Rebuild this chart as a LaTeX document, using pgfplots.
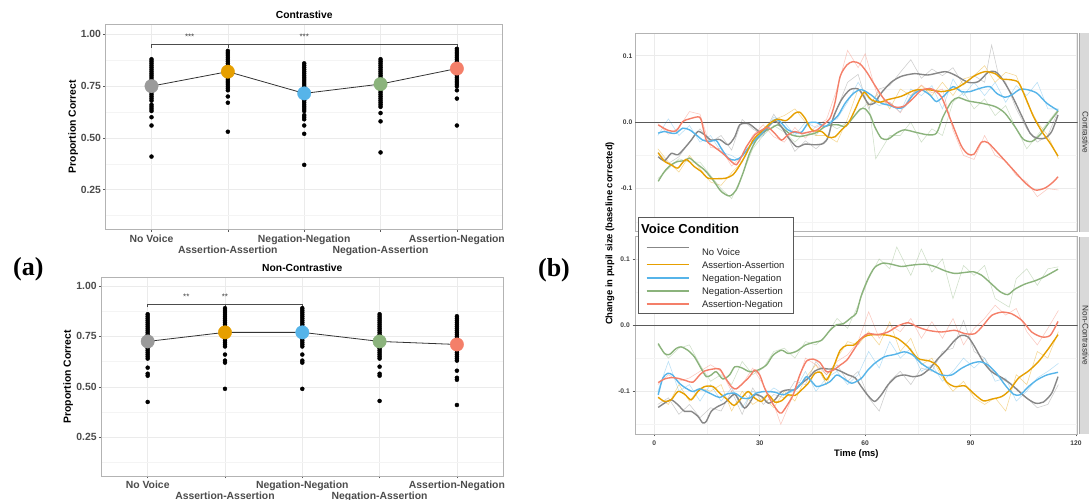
\documentclass[border=0pt]{standalone}
\usepackage{fontspec}
\setmainfont{Liberation Sans}
\newfontfamily\serifb{Liberation Serif}
\usepackage{pgfplots}
\pgfplotsset{compat=1.18}

\definecolor{cNV}{HTML}{878787}
\definecolor{cAA}{HTML}{E69F00}
\definecolor{cNN}{HTML}{56B4E9}
\definecolor{cNA}{HTML}{8BB37C}
\definecolor{cAN}{HTML}{F47F69}
\definecolor{dNV}{HTML}{9A9A9A}
\definecolor{gridc}{HTML}{EBEBEB}
\definecolor{gridm}{HTML}{F4F4F4}
\definecolor{bordc}{HTML}{B3B3B3}

\tikzset{stars/.style={font=\fontsize{8}{8}\selectfont, text=black!75}}
\newcommand{\lgs}{\rule[-3.6pt]{0pt}{12.6pt}}

\pgfplotsset{
  ggpanel/.style={
    scale only axis,
    axis line style={draw=bordc, line width=0.6pt},
    grid=both,
    major grid style={draw=gridc, line width=0.55pt},
    minor grid style={draw=gridm, line width=0.4pt},
    tick align=outside, xtick pos=lower, ytick pos=left,
    major tick length=2.5pt, minor tick length=0pt,
    tick style={draw=black!65, line width=0.5pt},
    /pgf/number format/assume math mode=true,
  },
  accpanel/.style={
    ggpanel,
    xmin=0.4, xmax=5.6,
    xtick={1,2,3,4,5},
    ytick={0.25,0.5,0.75,1}, yticklabels={0.25,0.50,0.75,1.00},
    minor ytick={0.125,0.375,0.625,0.875},
    xticklabels={\strut No Voice,{\strut\\\strut Assertion-Assertion},\strut Negation-Negation,{\strut\\\strut Negation-Assertion},\strut Assertion-Negation},
    x tick label style={align=center, font=\bfseries\fontsize{10.4}{11}\selectfont, text=black!70, inner sep=0pt, yshift=-2.5pt},
    y tick label style={font=\bfseries\fontsize{10.4}{11}\selectfont, text=black!70, inner sep=0pt, xshift=-2pt},
    ylabel={Proportion Correct},
    ylabel style={font=\bfseries\fontsize{10.4}{12}\selectfont},
  },
  pupilpanel/.style={
    ggpanel,
    xmin=-5.5, xmax=120.5, ymin=-0.1647, ymax=0.1337,
    xtick={0,30,60,90,120}, minor xtick={15,45,75,105},
    ytick={-0.1,0,0.1}, yticklabels={-0.1,0.0,0.1},
    minor ytick={-0.15,-0.05,0.05},
    y tick label style={font=\bfseries\fontsize{6.7}{8}\selectfont, text=black!75, inner sep=0pt, xshift=-2.5pt},
    x tick label style={font=\bfseries\fontsize{6.7}{8}\selectfont, text=black!75, inner sep=0pt, yshift=-4pt},
  },
  rawline/.style={#1, line width=0.55pt, opacity=0.42, forget plot},
  smline/.style={#1, line width=1.4pt, smooth, tension=0.45},
  dots/.style={only marks, mark=*, mark size=2pt, mark options={fill=black, draw=black}},
  meanpt/.style={only marks, mark=*, mark size=6.7pt, mark options={fill=#1, draw=#1}},
}

\begin{document}
\begin{tikzpicture}[x=1pt,y=1pt]
\useasboundingbox (0,0) rectangle (1089,500);

% ---------------- (a) Contrastive ----------------
\begin{axis}[accpanel,
  at={(105.7pt,270.7pt)}, anchor=south west, width=397pt, height=205.3pt,
  ymin=0.059, ymax=1.05,
  title={Contrastive},
  every axis title/.style={at={(0.5,1)}, anchor=base, yshift=5.3pt, font=\bfseries\fontsize{10.3}{12}\selectfont},
  ylabel style={at={(axis description cs:-0.0816,0.5)}, anchor=center},
]
\addplot[black!70, line width=0.6pt] coordinates {(1,0.936)(1,0.953)(5,0.953)(5,0.94)};
\addplot[black!70, line width=0.6pt] coordinates {(2,0.953)(2,0.935)};
\node[stars] at (axis cs:1.5,0.99) {***};
\node[stars] at (axis cs:3,0.99) {***};
\addplot[dots] coordinates {
(1,0.88)(1,0.87)(1,0.86)(1,0.85)(1,0.84)(1,0.83)(1,0.82)(1,0.81)(1,0.80)(1,0.79)(1,0.78)(1,0.77)(1,0.76)
(1,0.74)(1,0.73)(1,0.72)(1,0.71)(1,0.70)(1,0.69)(1,0.68)(1,0.66)(1,0.65)(1,0.64)(1,0.63)(1,0.60)(1,0.56)(1,0.41)
(2,0.92)(2,0.91)(2,0.90)(2,0.89)(2,0.88)(2,0.87)(2,0.86)(2,0.85)(2,0.84)(2,0.83)(2,0.82)(2,0.81)(2,0.80)
(2,0.79)(2,0.78)(2,0.77)(2,0.76)(2,0.75)(2,0.74)(2,0.73)(2,0.70)(2,0.67)(2,0.53)
(3,0.86)(3,0.85)(3,0.84)(3,0.83)(3,0.82)(3,0.81)(3,0.80)(3,0.79)(3,0.78)(3,0.77)(3,0.76)(3,0.75)(3,0.74)
(3,0.73)(3,0.72)(3,0.71)(3,0.70)(3,0.69)(3,0.68)(3,0.67)(3,0.66)(3,0.65)(3,0.64)(3,0.63)(3,0.61)(3,0.60)
(3,0.59)(3,0.56)(3,0.52)(3,0.37)
(4,0.88)(4,0.87)(4,0.86)(4,0.85)(4,0.84)(4,0.83)(4,0.82)(4,0.81)(4,0.80)(4,0.79)(4,0.78)(4,0.77)(4,0.76)
(4,0.75)(4,0.74)(4,0.73)(4,0.72)(4,0.71)(4,0.70)(4,0.69)(4,0.68)(4,0.67)(4,0.66)(4,0.65)(4,0.62)(4,0.58)(4,0.43)
(5,0.93)(5,0.92)(5,0.91)(5,0.90)(5,0.89)(5,0.88)(5,0.87)(5,0.86)(5,0.85)(5,0.84)(5,0.83)(5,0.82)(5,0.81)
(5,0.80)(5,0.79)(5,0.78)(5,0.77)(5,0.76)(5,0.75)(5,0.73)(5,0.69)(5,0.56)
};
\addplot[black!80, line width=0.8pt] coordinates {(1,0.75)(2,0.82)(3,0.715)(4,0.76)(5,0.835)};
\addplot[meanpt=dNV] coordinates {(1,0.75)};
\addplot[meanpt=cAA] coordinates {(2,0.82)};
\addplot[meanpt=cNN] coordinates {(3,0.715)};
\addplot[meanpt=cNA] coordinates {(4,0.76)};
\addplot[meanpt=cAN] coordinates {(5,0.835)};
\end{axis}

% ---------------- (a) Non-Contrastive ----------------
\begin{axis}[accpanel,
  at={(101.3pt,24pt)}, anchor=south west, width=402pt, height=198.3pt,
  ymin=0.058, ymax=1.041,
  title={Non-Contrastive},
  every axis title/.style={at={(0.5,1)}, anchor=base, yshift=6.3pt, font=\bfseries\fontsize{10.3}{12}\selectfont},
  ylabel style={at={(axis description cs:-0.0821,0.5)}, anchor=center},
]
\addplot[black!70, line width=0.6pt] coordinates {(1,0.895)(1,0.911)(3,0.911)(3,0.895)};
\addplot[black!70, line width=0.6pt] coordinates {(2,0.911)(2,0.895)};
\node[stars] at (axis cs:1.5,0.947) {**};
\node[stars] at (axis cs:2,0.947) {**};
\addplot[dots] coordinates {
(1,0.86)(1,0.85)(1,0.84)(1,0.83)(1,0.82)(1,0.81)(1,0.80)(1,0.79)(1,0.78)(1,0.77)(1,0.76)(1,0.75)
(1,0.74)(1,0.73)(1,0.72)(1,0.71)(1,0.70)(1,0.69)(1,0.68)(1,0.67)(1,0.66)(1,0.65)(1,0.64)(1,0.595)(1,0.565)(1,0.555)(1,0.425)
(2,0.89)(2,0.88)(2,0.87)(2,0.86)(2,0.85)(2,0.84)(2,0.83)(2,0.82)(2,0.81)(2,0.80)(2,0.79)(2,0.78)
(2,0.77)(2,0.76)(2,0.75)(2,0.74)(2,0.73)(2,0.72)(2,0.71)(2,0.70)(2,0.66)(2,0.63)(2,0.62)(2,0.49)
(3,0.89)(3,0.88)(3,0.87)(3,0.86)(3,0.85)(3,0.84)(3,0.83)(3,0.82)(3,0.81)(3,0.80)(3,0.79)(3,0.78)
(3,0.77)(3,0.76)(3,0.75)(3,0.74)(3,0.73)(3,0.72)(3,0.71)(3,0.70)(3,0.66)(3,0.63)(3,0.62)(3,0.49)
(4,0.86)(4,0.85)(4,0.84)(4,0.83)(4,0.82)(4,0.81)(4,0.80)(4,0.79)(4,0.78)(4,0.77)(4,0.76)(4,0.75)
(4,0.74)(4,0.73)(4,0.72)(4,0.71)(4,0.70)(4,0.69)(4,0.68)(4,0.67)(4,0.66)(4,0.65)(4,0.64)(4,0.60)(4,0.565)(4,0.555)(4,0.43)
(5,0.85)(5,0.84)(5,0.83)(5,0.82)(5,0.81)(5,0.80)(5,0.79)(5,0.78)(5,0.77)(5,0.76)(5,0.75)(5,0.74)
(5,0.73)(5,0.72)(5,0.71)(5,0.70)(5,0.69)(5,0.68)(5,0.67)(5,0.66)(5,0.65)(5,0.64)(5,0.63)(5,0.58)(5,0.545)(5,0.535)(5,0.41)
};
\addplot[black!80, line width=0.8pt] coordinates {(1,0.725)(2,0.77)(3,0.77)(4,0.725)(5,0.71)};
\addplot[meanpt=dNV] coordinates {(1,0.725)};
\addplot[meanpt=cAA] coordinates {(2,0.77)};
\addplot[meanpt=cNN] coordinates {(3,0.77)};
\addplot[meanpt=cNA] coordinates {(4,0.725)};
\addplot[meanpt=cAN] coordinates {(5,0.71)};
\end{axis}

% ---------------- (b) Contrastive ----------------
\begin{axis}[pupilpanel,
  at={(635pt,268.3pt)}, anchor=south west, width=442.7pt, height=198.4pt,
  xticklabels={}, major tick length=0pt,
]
\addplot[rawline=cNV] coordinates {(1,-0.045)(4,-0.062)(7,-0.052)(10,-0.03)(13,-0.01)(16,-0.03)(19,-0.02)(22,-0.042)(25,0.004)(28,-0.01)(31,-0.02)(34,0.012)(37,-0.012)(40,-0.044)(43,-0.028)(46,-0.04)(49,-0.026)(52,0.02)(55,0.06)(58,0.072)(61,0.02)(64,0.05)(67,0.055)(70,0.075)(73,0.094)(76,0.066)(79,0.08)(82,0.07)(85,0.082)(88,0.056)(91,0.07)(94,0.06)(96,0.116)(98,0.07)(100,0.06)(103,0.02)(106,-0.01)(109,-0.03)(112,-0.02)(115,0.018)};
\addplot[rawline=cAA] coordinates {(1,-0.04)(4,-0.06)(7,-0.075)(10,-0.05)(13,-0.07)(16,-0.09)(19,-0.095)(22,-0.076)(25,-0.06)(28,-0.03)(31,-0.01)(34,0.004)(37,0.01)(40,0.02)(43,0.0)(46,-0.02)(49,-0.02)(52,-0.03)(55,0.005)(58,0.05)(61,0.025)(64,0.045)(67,0.02)(70,0.05)(73,0.04)(76,0.055)(79,0.04)(82,0.06)(85,0.04)(88,0.065)(91,0.07)(94,0.085)(97,0.06)(100,0.075)(103,0.07)(106,0.03)(109,0.0)(112,-0.02)(115,-0.055)};
\addplot[rawline=cNN] coordinates {(1,-0.02)(4,0.005)(7,-0.02)(10,-0.005)(13,-0.03)(16,-0.02)(19,-0.045)(22,-0.05)(25,-0.06)(28,-0.03)(31,-0.02)(34,0.008)(37,0.0)(40,-0.02)(43,0.0)(46,-0.008)(49,0.0)(52,0.005)(55,0.03)(58,0.06)(61,0.035)(64,0.025)(67,0.03)(70,0.015)(73,0.05)(76,0.04)(79,0.055)(82,0.02)(85,0.065)(88,0.04)(91,0.06)(94,0.04)(97,0.06)(100,0.03)(103,0.055)(106,0.04)(109,0.06)(112,0.02)(115,0.02)};
\addplot[rawline=cNA] coordinates {(1,-0.085)(4,-0.07)(7,-0.055)(10,-0.06)(13,-0.06)(16,-0.08)(19,-0.1)(22,-0.115)(25,-0.08)(28,-0.04)(31,-0.02)(34,-0.005)(37,-0.015)(40,-0.03)(43,-0.015)(46,-0.02)(49,0.0)(52,-0.01)(55,0.0)(58,0.015)(61,0.03)(63,-0.055)(67,-0.02)(70,-0.02)(73,0.0)(76,-0.03)(79,-0.01)(82,-0.02)(85,0.03)(88,0.045)(91,0.02)(94,0.035)(97,0.01)(100,0.025)(103,-0.01)(106,-0.04)(109,-0.02)(112,0.0)(115,0.02)};
\addplot[rawline=cAN] coordinates {(1,-0.002)(4,-0.018)(7,-0.008)(10,0.016)(13,0.012)(16,-0.038)(19,-0.04)(22,-0.066)(25,-0.05)(28,-0.02)(31,-0.004)(34,-0.022)(37,-0.03)(40,-0.008)(43,-0.024)(46,-0.006)(49,0.004)(52,0.05)(55,0.108)(58,0.082)(60,0.103)(64,0.03)(67,0.03)(70,0.014)(73,0.04)(76,0.056)(79,0.044)(82,0.05)(85,-0.012)(88,-0.05)(91,-0.056)(94,-0.02)(97,-0.05)(100,-0.058)(103,-0.08)(106,-0.09)(109,-0.112)(112,-0.1)(115,-0.102)};
\addplot[black!65, line width=0.9pt] coordinates {(-5.5,0)(120.5,0)};
\addplot[smline=cNA] coordinates {(1.1,-0.089)(2.9,-0.074)(4.8,-0.064)(6.7,-0.059)(8.6,-0.058)(10,-0.054)(11.9,-0.062)(14.3,-0.072)(16.7,-0.087)(19,-0.104)(21.4,-0.111)(23.3,-0.102)(25.2,-0.077)(27.1,-0.047)(29,-0.027)(31.4,-0.014)(33.3,-0.009)(35.2,-0.004)(37.1,-0.0115)(39,-0.019)(41.4,-0.0215)(43.8,-0.019)(46.2,-0.0155)(48.6,-0.0065)(50.5,-0.004)(52.4,-0.004)(54.3,-0.0065)(56.2,0.0045)(58.6,0.0195)(60,0.02)(61.5,0.01)(62.7,-0.0065)(64.6,-0.024)(66.5,-0.0255)(68.9,-0.0165)(71.2,-0.0115)(74.6,-0.0155)(77.9,-0.019)(80.3,-0.0165)(82.2,0.0085)(84.6,0.031)(86.5,0.037)(89.3,0.032)(93.1,0.0285)(97,0.0235)(99.8,0.0135)(102.6,-0.0065)(105,-0.0255)(107.4,-0.029)(109.8,-0.019)(112.2,-0.0015)(114.9,0.017)};
\addplot[smline=cNV] coordinates {(1.1,-0.052)(2.9,-0.058)(4.8,-0.047)(6.7,-0.049)(8.6,-0.039)(10.5,-0.027)(12.4,-0.014)(14.3,-0.019)(16.2,-0.027)(18.6,-0.026)(21,-0.034)(22.9,-0.022)(24.3,-0.004)(26.7,-0.002)(28.6,-0.009)(30.5,-0.016)(32.4,-0.007)(34.3,0.002)(36.2,-0.007)(38,-0.022)(40.5,-0.037)(42.9,-0.033)(45.7,-0.034)(48.1,-0.032)(49.5,-0.022)(51,0.008)(53.3,0.034)(55.7,0.049)(58,0.05)(59.5,0.04)(61,0.027)(62.7,0.029)(64.6,0.044)(67.4,0.06)(70.3,0.069)(74.1,0.073)(77.9,0.071)(82.7,0.076)(85.5,0.071)(89.3,0.06)(92.2,0.061)(95,0.075)(97,0.076)(98.9,0.066)(101.7,0.041)(104.6,0.009)(107,-0.017)(108.9,-0.024)(111.2,-0.024)(113.1,-0.014)(114.9,0.011)};
\addplot[smline=cNN] coordinates {(1.1,-0.0165)(2.9,-0.014)(4.8,-0.0165)(6.2,-0.0165)(8.1,-0.009)(10,-0.0115)(11.9,-0.019)(13.8,-0.027)(15.7,-0.029)(17.6,-0.0275)(19,-0.039)(21,-0.054)(22.9,-0.057)(24.8,-0.052)(26.7,-0.039)(28.6,-0.027)(31,-0.014)(33.3,-0.0005)(34.8,0.0045)(36.2,-0.0015)(38,-0.0115)(40,-0.0155)(41.9,-0.015)(43.8,-0.0015)(46.2,-0.0005)(48.6,-0.0065)(50.5,0.001)(52.4,0.011)(54.3,0.0285)(56.7,0.0435)(58.9,0.049)(61.7,0.041)(64.6,0.0285)(66.5,0.026)(69.3,0.021)(71.2,0.0235)(73.6,0.041)(76,0.0485)(78.4,0.041)(80.3,0.031)(82.7,0.041)(85,0.0535)(87.4,0.046)(89.8,0.046)(92.7,0.051)(95.5,0.0535)(97.4,0.0435)(99.8,0.0375)(101.7,0.041)(104.1,0.0495)(106.5,0.0485)(108.9,0.0435)(111.7,0.0285)(114.9,0.0175)};
\addplot[smline=cAA] coordinates {(1.1,-0.046)(2.9,-0.059)(4.8,-0.064)(6.7,-0.069)(9,-0.056)(11.4,-0.067)(13.3,-0.074)(15.2,-0.084)(18.1,-0.085)(20.5,-0.084)(22.4,-0.079)(23.8,-0.069)(25.7,-0.052)(28.1,-0.027)(30.5,-0.014)(33.3,0.0)(35.2,0.0045)(37.6,0.0025)(40,0.0135)(41.4,0.015)(42.9,0.006)(44.8,-0.0115)(47.6,-0.014)(49.5,-0.0225)(51.4,-0.022)(53.3,-0.0115)(55.2,-0.0015)(57.1,0.0185)(58.6,0.036)(59.8,0.045)(61.7,0.034)(64.1,0.03)(66.5,0.034)(70.3,0.039)(74.1,0.048)(77.9,0.049)(81.7,0.046)(85.5,0.05)(88.4,0.059)(91.2,0.07)(94.1,0.076)(97,0.073)(98.9,0.065)(101.2,0.064)(103.6,0.06)(105.5,0.039)(107.9,0.0085)(110.3,-0.014)(112.7,-0.032)(114.9,-0.051)};
\addplot[smline=cAN] coordinates {(1.1,-0.004)(3.8,-0.012)(6.2,-0.013)(8.1,0.001)(10,0.005)(12.4,0.008)(13.3,0.004)(14.8,-0.027)(17,-0.037)(19.5,-0.047)(21.9,-0.059)(23.3,-0.064)(24.6,-0.054)(26.2,-0.037)(28.6,-0.019)(30.5,-0.012)(32.4,-0.008)(34.3,-0.017)(36.2,-0.027)(38,-0.019)(40,-0.014)(41.9,-0.017)(43.8,-0.015)(46.2,-0.012)(48,-0.004)(50,0.006)(51.4,0.029)(52.9,0.069)(54.8,0.086)(56.5,0.091)(58.5,0.088)(60.5,0.075)(62.7,0.056)(65.5,0.034)(68.4,0.023)(71,0.024)(73.5,0.035)(76,0.048)(78.9,0.05)(81.7,0.038)(84.6,0.0)(87.4,-0.036)(89.3,-0.048)(91,-0.048)(93.1,-0.03)(95,-0.031)(97.9,-0.047)(101.7,-0.069)(105.5,-0.091)(108.4,-0.102)(111.2,-0.099)(113.5,-0.09)(114.9,-0.082)};
\end{axis}

% ---------------- (b) Non-Contrastive ----------------
\begin{axis}[pupilpanel,
  at={(635pt,66pt)}, anchor=south west, width=442.7pt, height=197.4pt,
  xlabel={Time (ms)},
  xlabel style={font=\bfseries\fontsize{9.4}{11}\selectfont, at={(axis description cs:0.5,-0.101)}, anchor=center},
  ylabel={Change in pupil size (baseline corrected)},
  ylabel style={font=\bfseries\fontsize{9.4}{11}\selectfont, at={(axis description cs:-0.0564,1.0157)}, anchor=center},
  legend cell align=left,
  legend image code/.code={\draw[#1, line width=1.4pt] (0pt,0pt) -- (42.7pt,0pt);},
  legend style={at={(axis description cs:0.0061,1.1008)}, anchor=north west,
    draw=black!65, line width=0.6pt, fill=white,
    inner xsep=8pt, inner ysep=3pt, row sep=0pt,
    font=\fontsize{9.5}{11}\selectfont,
    nodes={inner sep=1.3pt, text=black!85},
    /tikz/every odd column/.append style={column sep=10.7pt}},
]
\addlegendimage{empty legend}
\addlegendentry{\hspace*{-61pt}\rule[-2pt]{0pt}{14.7pt}{\fontsize{13}{14}\selectfont\bfseries\color{black}Voice Condition}}
\addplot[rawline=cNV] coordinates {(1,-0.12)(4,-0.11)(7,-0.135)(10,-0.12)(13,-0.14)(16,-0.125)(19,-0.13)(22,-0.1)(25,-0.135)(28,-0.095)(31,-0.12)(34,-0.105)(37,-0.11)(40,-0.085)(43,-0.09)(46,-0.055)(49,-0.075)(52,-0.06)(55,-0.085)(58,-0.07)(61,-0.11)(64,-0.13)(67,-0.085)(70,-0.07)(73,-0.09)(76,-0.065)(79,-0.07)(82,-0.04)(85,-0.035)(88,0.007)(91,-0.04)(94,-0.05)(97,-0.075)(100,-0.085)(103,-0.095)(106,-0.11)(109,-0.125)(112,-0.12)(115,-0.09)};
\addplot[rawline=cAA] coordinates {(1,-0.11)(4,-0.12)(7,-0.09)(10,-0.115)(13,-0.095)(16,-0.1)(19,-0.09)(22,-0.13)(25,-0.1)(28,-0.12)(31,-0.11)(34,-0.125)(37,-0.1)(40,-0.115)(43,-0.08)(46,-0.06)(49,-0.09)(52,-0.05)(55,-0.025)(58,-0.03)(61,-0.01)(64,-0.03)(67,0.005)(70,-0.04)(73,-0.02)(76,-0.06)(79,-0.05)(82,-0.08)(85,-0.1)(88,-0.085)(91,-0.11)(94,-0.12)(97,-0.11)(100,-0.13)(103,-0.075)(106,-0.09)(109,-0.04)(112,-0.05)(115,-0.01)};
\addplot[rawline=cNN] coordinates {(1,-0.1)(4,-0.055)(7,-0.1)(10,-0.09)(13,-0.115)(16,-0.09)(19,-0.115)(22,-0.095)(25,-0.125)(28,-0.1)(31,-0.11)(34,-0.095)(37,-0.105)(40,-0.1)(43,-0.07)(46,-0.1)(49,-0.08)(52,-0.07)(55,-0.09)(58,-0.075)(61,-0.04)(64,-0.065)(67,-0.025)(70,-0.05)(73,-0.035)(76,-0.07)(79,-0.06)(82,-0.085)(85,-0.07)(88,-0.05)(91,-0.065)(94,-0.05)(97,-0.085)(100,-0.08)(103,-0.115)(106,-0.1)(109,-0.08)(112,-0.07)(115,-0.058)};
\addplot[rawline=cNA] coordinates {(1,-0.03)(4,-0.05)(7,-0.035)(10,-0.03)(13,-0.06)(16,-0.085)(19,-0.075)(22,-0.09)(25,-0.055)(28,-0.075)(31,-0.065)(34,-0.04)(37,-0.035)(40,-0.05)(43,-0.025)(46,-0.03)(49,-0.015)(52,0.01)(55,-0.005)(58,0.03)(61,0.07)(64,0.1)(67,0.085)(69,0.118)(73,0.075)(76,0.115)(79,0.08)(82,0.1)(85,0.04)(88,0.09)(91,0.075)(94,0.09)(97,0.04)(101,0.027)(103,0.07)(106,0.085)(109,0.06)(112,0.085)(115,0.088)};
\addplot[rawline=cAN] coordinates {(1,-0.09)(4,-0.075)(7,-0.085)(10,-0.08)(13,-0.07)(16,-0.06)(19,-0.07)(22,-0.1)(25,-0.09)(28,-0.065)(31,-0.09)(34,-0.12)(36,-0.15)(40,-0.1)(43,-0.05)(46,-0.06)(49,-0.075)(52,-0.055)(55,-0.045)(58,-0.025)(61,0.02)(64,-0.02)(67,0.0)(70,-0.01)(73,0.01)(76,-0.02)(79,0.005)(82,-0.02)(85,0.01)(88,-0.03)(91,-0.005)(94,0.01)(97,0.03)(100,0.015)(103,0.025)(106,-0.01)(109,-0.03)(112,-0.005)(115,0.022)};
\addplot[black!65, line width=0.9pt, forget plot] coordinates {(-5.5,0)(120.5,0)};
\addplot[smline=cNV] coordinates {(1.1,-0.1245)(2.9,-0.118)(4.8,-0.113)(6.7,-0.1205)(8.6,-0.1305)(10.5,-0.1305)(12.4,-0.138)(13.8,-0.148)(14.8,-0.1455)(16.2,-0.1305)(18.1,-0.123)(20,-0.118)(21.4,-0.1105)(22.9,-0.1045)(24.3,-0.1155)(25.7,-0.1255)(27.1,-0.118)(28.6,-0.1055)(30.5,-0.108)(32.4,-0.118)(34.3,-0.113)(36.2,-0.1005)(38.1,-0.098)(40,-0.098)(41.9,-0.088)(43.8,-0.0805)(45.7,-0.0695)(47.6,-0.0655)(49.5,-0.0665)(51.4,-0.0665)(53.3,-0.0705)(55.2,-0.0755)(57.1,-0.0795)(58.9,-0.093)(60.8,-0.1065)(62.7,-0.1155)(64.6,-0.1055)(66.5,-0.0905)(68.9,-0.078)(71.2,-0.0755)(73.6,-0.078)(76,-0.0755)(78.4,-0.0655)(80.8,-0.0505)(83.1,-0.038)(85.5,-0.023)(87.4,-0.0155)(89.3,-0.018)(91.2,-0.033)(93.6,-0.0555)(96,-0.0705)(98.9,-0.0795)(101.2,-0.088)(103.6,-0.0995)(106,-0.1105)(108.4,-0.118)(110.7,-0.1165)(113.1,-0.103)(114.9,-0.078)};
\addlegendentry{\rule[-3.6pt]{0pt}{20.9pt}No Voice}
\addplot[smline=cAA] coordinates {(1.1,-0.109)(2.9,-0.1155)(4.8,-0.113)(6.7,-0.1005)(8.6,-0.1045)(10.5,-0.113)(12.4,-0.1005)(14.3,-0.093)(16.7,-0.093)(18.6,-0.103)(20.5,-0.1115)(22.7,-0.1215)(24.8,-0.1105)(26.7,-0.1005)(28.6,-0.1105)(30.5,-0.1155)(32.4,-0.1055)(34.3,-0.1165)(36.2,-0.1145)(38.1,-0.1055)(40,-0.1065)(41.9,-0.098)(43.8,-0.088)(45.7,-0.073)(47.4,-0.0715)(49,-0.083)(51,-0.063)(52.9,-0.038)(54.8,-0.0305)(56.7,-0.0305)(58.9,-0.0205)(60.8,-0.0155)(63.6,-0.0145)(66.5,-0.0155)(69.3,-0.0205)(72.2,-0.033)(75,-0.0505)(78.4,-0.0545)(80.8,-0.063)(83.1,-0.0855)(85.5,-0.093)(88.4,-0.092)(90.8,-0.103)(93.6,-0.1145)(96,-0.112)(98.9,-0.108)(101.2,-0.098)(103.6,-0.0805)(106.5,-0.0695)(109.3,-0.0555)(112.2,-0.0355)(114.9,-0.0145)};
\addlegendentry{\lgs Assertion-Assertion}
\addplot[smline=cNN] coordinates {(1.1,-0.1055)(2.4,-0.0805)(3.8,-0.073)(5.2,-0.0755)(7.1,-0.088)(9,-0.0955)(10.95,-0.1005)(12.9,-0.0965)(14.8,-0.1005)(16.7,-0.1055)(18.6,-0.1095)(20.5,-0.1045)(22.9,-0.103)(25.2,-0.1105)(27.1,-0.1105)(29,-0.103)(31.4,-0.1005)(34.3,-0.1015)(36.7,-0.1055)(38.6,-0.1005)(40.5,-0.0955)(41.9,-0.088)(43.3,-0.078)(44.8,-0.0855)(46.2,-0.093)(48.1,-0.0905)(50,-0.0855)(51.9,-0.0755)(53.8,-0.0805)(56.2,-0.088)(58.9,-0.0805)(60.8,-0.068)(62.7,-0.058)(65.5,-0.048)(68.4,-0.0445)(71.2,-0.0405)(73.6,-0.0455)(76,-0.058)(78.9,-0.068)(81.7,-0.0755)(84.6,-0.0755)(87.4,-0.0655)(90.3,-0.058)(92.7,-0.0555)(95,-0.0605)(97.4,-0.073)(99.8,-0.0905)(102.2,-0.1045)(104.1,-0.1055)(106.5,-0.093)(108.9,-0.083)(111.7,-0.0755)(114.9,-0.0715)};
\addlegendentry{\lgs Negation-Negation}
\addplot[smline=cNA] coordinates {(1.1,-0.028)(2.9,-0.043)(4.3,-0.0445)(6.2,-0.0355)(7.6,-0.033)(9.5,-0.038)(11.4,-0.048)(13.3,-0.0655)(14.8,-0.078)(16.2,-0.0755)(17.6,-0.0705)(19.5,-0.0815)(21.4,-0.0755)(22.9,-0.063)(24.8,-0.0645)(27.1,-0.0705)(29.5,-0.068)(31.9,-0.0605)(33.8,-0.0455)(36.2,-0.038)(38.1,-0.043)(40.5,-0.0395)(42.9,-0.0305)(45.2,-0.0265)(47.6,-0.023)(50,-0.008)(51.9,0.0005)(53.8,0.002)(56.2,0.012)(57.5,0.018)(58.9,0.0445)(60.8,0.0695)(62.7,0.087)(65,0.0935)(67.4,0.092)(70.3,0.0885)(73.1,0.0905)(76.9,0.092)(79.8,0.0885)(82.7,0.082)(85.5,0.078)(88.4,0.0795)(90.8,0.0805)(93.1,0.0755)(96,0.062)(98.4,0.0505)(100.6,0.046)(102.7,0.0545)(105.5,0.062)(108.4,0.067)(111.2,0.0735)(114.9,0.0845)};
\addlegendentry{\lgs Negation-Assertion}
\addplot[smline=cAN] coordinates {(1.1,-0.087)(2.9,-0.0815)(4.8,-0.0795)(6.7,-0.0805)(9,-0.084)(10.95,-0.0865)(12.9,-0.0755)(14.3,-0.0695)(16.7,-0.0665)(18.6,-0.0665)(20,-0.078)(21.9,-0.093)(23.3,-0.0965)(25.2,-0.088)(27.1,-0.078)(28.6,-0.068)(30,-0.0755)(31.4,-0.0955)(33.3,-0.1155)(35.2,-0.1305)(36.2,-0.133)(37.6,-0.123)(39.5,-0.1055)(41.4,-0.0755)(43.3,-0.0545)(45.2,-0.0515)(47.1,-0.0565)(49,-0.0705)(51,-0.068)(52.9,-0.0605)(54.8,-0.053)(56.7,-0.038)(58.9,-0.0205)(60.8,-0.013)(63.6,-0.0145)(66.5,-0.0105)(69.3,-0.0015)(72.2,0.0035)(75,-0.003)(77.9,-0.008)(81.7,-0.0105)(85.5,-0.008)(88.4,-0.013)(91.2,-0.013)(93.6,-0.0005)(96,0.0145)(98.9,0.0195)(101.7,0.017)(104.6,0.007)(107.4,-0.0105)(110.3,-0.018)(112.7,-0.0155)(114.9,0.0055)};
\addlegendentry{\lgs Assertion-Negation}
\end{axis}

% facet strips
\fill[black!15] (1079,268.3) rectangle (1095,466.7);
\fill[black!15] (1079,66) rectangle (1095,263.4);
\draw[black!35, line width=0.5pt] (1079,268.3) -- (1079,466.7);
\draw[black!35, line width=0.5pt] (1079,66) -- (1079,263.4);
\node[rotate=-90, font=\fontsize{8.2}{9}\selectfont, text=black!80] at (1085.5,367.5) {Contrastive};
\node[rotate=-90, font=\fontsize{8.2}{9}\selectfont, text=black!80] at (1085.5,164.7) {Non-Contrastive};

% panel tags
\node[font=\serifb\bfseries\fontsize{26}{28}\selectfont] at (28.3,230.5) {(a)};
\node[font=\serifb\bfseries\fontsize{26}{28}\selectfont] at (554,229.5) {(b)};
\end{tikzpicture}
\end{document}
